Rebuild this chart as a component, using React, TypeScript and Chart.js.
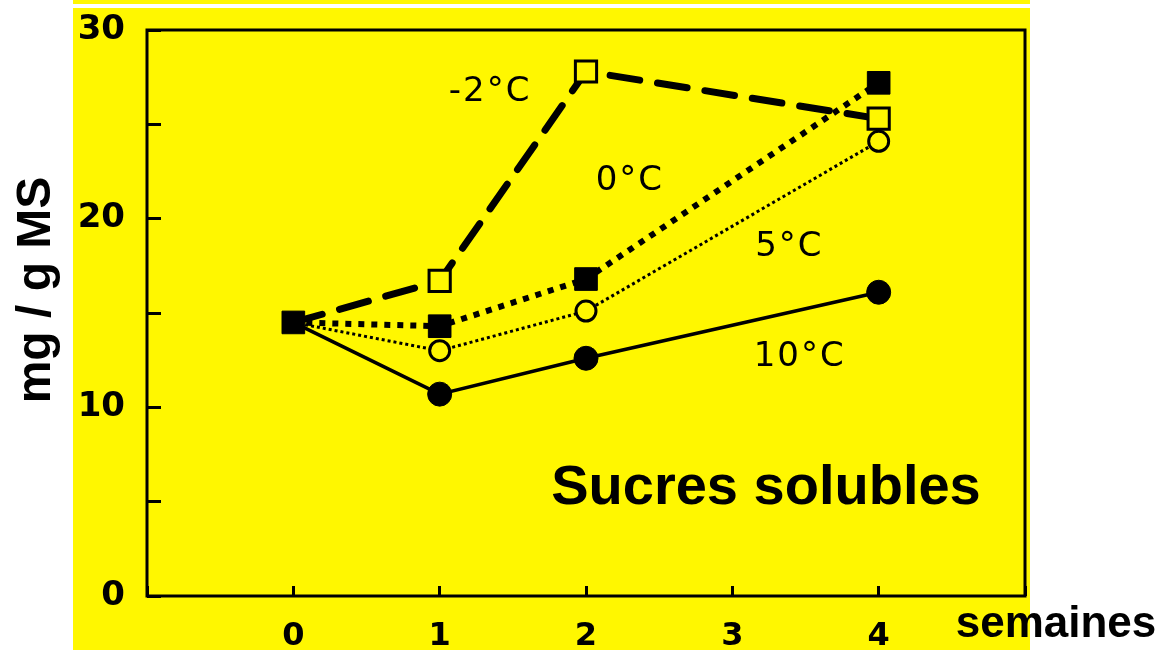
import React, { useEffect, useRef } from 'react';
import { Chart, registerables } from 'chart.js';

Chart.register(...registerables);

// ---- data ----
const weeks = [0, 1, 2, 4];
const seriesMinus2 = [14.5, 16.7, 27.8, 25.3];
const series0 = [14.5, 14.3, 16.8, 27.2];
const series5 = [14.5, 13.0, 15.1, 24.1];
const series10 = [14.5, 10.7, 12.6, 16.1];
const xTickLabels = ['0', '1', '2', '3', '4'];
const yTickLabels = ['0', '10', '20', '30'];
const curveLabels = ['-2°C', '0°C', '5°C', '10°C'];
const curveLabelX = [1.345, 2.3, 3.39, 3.46];
const curveLabelY = [26.7, 22.0, 18.5, 12.65];
const panelTitle = 'Sucres solubles';
const panelTitleX = 3.23;
const panelTitleY = 5.7;
const yTitle = 'mg / g MS';
const xTitle = 'semaines';

const YELLOW = '#FFF700';

const toPoints = (vals: number[]) => weeks.map((w, i) => ({ x: w, y: vals[i] }));

const decorPlugin = {
  id: 'decor',
  beforeDraw(chart: any) {
    const ctx = chart.ctx;
    ctx.save();
    ctx.fillStyle = '#ffffff';
    ctx.fillRect(0, 0, chart.width, chart.height);
    ctx.fillStyle = YELLOW;
    ctx.fillRect(73, 0, 1030 - 73, chart.height);
    ctx.fillStyle = '#ffffff';
    ctx.fillRect(73, 4, 1030 - 73, 4);
    ctx.restore();
  },
  beforeDatasetsDraw(chart: any) {
    const ctx = chart.ctx;
    const a = chart.chartArea;
    ctx.save();
    ctx.strokeStyle = '#000';
    ctx.lineWidth = 3;
    ctx.strokeRect(a.left, a.top, a.right - a.left, a.bottom - a.top);
    ctx.restore();
  },
  afterDatasetsDraw(chart: any) {
    const ctx = chart.ctx;
    const xs = chart.scales.x;
    const ys = chart.scales.y;
    ctx.save();
    ctx.fillStyle = '#000';
    ctx.textAlign = 'center';
    ctx.textBaseline = 'middle';
    ctx.font = '34px "DejaVu Sans"';
    (ctx as any).letterSpacing = '2px';
    curveLabels.forEach((t, i) => {
      ctx.fillText(t, xs.getPixelForValue(curveLabelX[i]), ys.getPixelForValue(curveLabelY[i]));
    });
    (ctx as any).letterSpacing = '0px';
    ctx.font = 'bold 56px "Liberation Sans"';
    ctx.fillText(panelTitle, xs.getPixelForValue(panelTitleX), ys.getPixelForValue(panelTitleY));
    ctx.font = 'bold 44px "Liberation Sans"';
    ctx.textBaseline = 'alphabetic';
    ctx.textAlign = 'center';
    ctx.fillText(xTitle, 1056, 637);
    ctx.translate(50, 290);
    ctx.rotate(-Math.PI / 2);
    ctx.font = 'bold 48px "Liberation Sans"';
    ctx.fillText(yTitle, 0, 0);
    ctx.restore();
  },
};

export default function App() {
  const ref = useRef<HTMLCanvasElement | null>(null);
  useEffect(() => {
    if (!ref.current) return;
    const common = { showLine: true, fill: false, tension: 0 };
    const chart = new Chart(ref.current, {
      type: 'scatter',
      data: {
        datasets: [
          {
            ...common,
            label: curveLabels[1],
            data: toPoints(series0),
            borderColor: '#000',
            borderWidth: 6,
            borderDash: [6, 7],
            pointStyle: 'rect',
            pointRadius: 16,
            pointBackgroundColor: '#000',
            pointBorderColor: '#000',
            pointBorderWidth: 1,
          },
          {
            ...common,
            label: curveLabels[0],
            data: toPoints(seriesMinus2),
            borderColor: '#000',
            borderWidth: 7,
            borderDash: [30, 18],
            borderCapStyle: 'round',
            pointStyle: 'rect',
            pointRadius: [0, 15, 15, 15],
            pointBackgroundColor: YELLOW,
            pointBorderColor: '#000',
            pointBorderWidth: 3,
          },
          {
            ...common,
            label: curveLabels[2],
            data: toPoints(series5),
            borderColor: '#000',
            borderWidth: 3,
            borderDash: [3, 3],
            pointStyle: 'circle',
            pointRadius: [0, 10, 10, 10],
            pointBackgroundColor: YELLOW,
            pointBorderColor: '#000',
            pointBorderWidth: 3,
          },
          {
            ...common,
            label: curveLabels[3],
            data: toPoints(series10),
            borderColor: '#000',
            borderWidth: 3.5,
            pointStyle: 'circle',
            pointRadius: [0, 12, 12, 12],
            pointBackgroundColor: '#000',
            pointBorderColor: '#000',
            pointBorderWidth: 1,
          },
        ],
      },
      options: {
        animation: false,
        responsive: false,
        maintainAspectRatio: false,
        layout: { padding: { left: 0, right: 137, top: 30, bottom: 0 } },
        plugins: { legend: { display: false }, tooltip: { enabled: false } },
        scales: {
          x: {
            type: 'linear',
            min: -1,
            max: 5,
            afterFit: (s: any) => {
              s.height = 54;
              s.paddingLeft = 0;
              s.paddingRight = 0;
              s.paddingTop = 0;
              s.paddingBottom = 0;
            },
            border: { display: false },
            grid: { display: true, drawOnChartArea: false, drawTicks: true, tickLength: -10, color: '#000', lineWidth: 3 },
            ticks: {
              stepSize: 1,
              padding: 31,
              color: '#000',
              font: { family: 'DejaVu Sans', weight: 'bold', size: 32 },
              callback: (v: any) => (xTickLabels.includes(String(v)) ? String(v) : ''),
            },
          },
          y: {
            min: 0,
            max: 30,
            afterFit: (s: any) => {
              s.width = 147;
              s.paddingLeft = 0;
              s.paddingRight = 0;
              s.paddingTop = 0;
              s.paddingBottom = 0;
            },
            border: { display: false },
            grid: { display: true, drawOnChartArea: false, drawTicks: true, tickLength: -14, color: '#000', lineWidth: 3 },
            ticks: {
              stepSize: 5,
              padding: 36,
              color: '#000',
              font: { family: 'DejaVu Sans', weight: 'bold', size: 34 },
              callback: (v: any) => (yTickLabels.includes(String(v)) ? String(v) : ''),
            },
          },
        },
      } as any,
      plugins: [decorPlugin],
    });
    return () => chart.destroy();
  }, []);
  return (
    <div style={{ position: 'fixed', left: 0, top: 0, width: 1162, height: 650 }}>
      <canvas ref={ref} width={1162} height={650} style={{ width: 1162, height: 650, display: 'block' }} />
    </div>
  );
}
